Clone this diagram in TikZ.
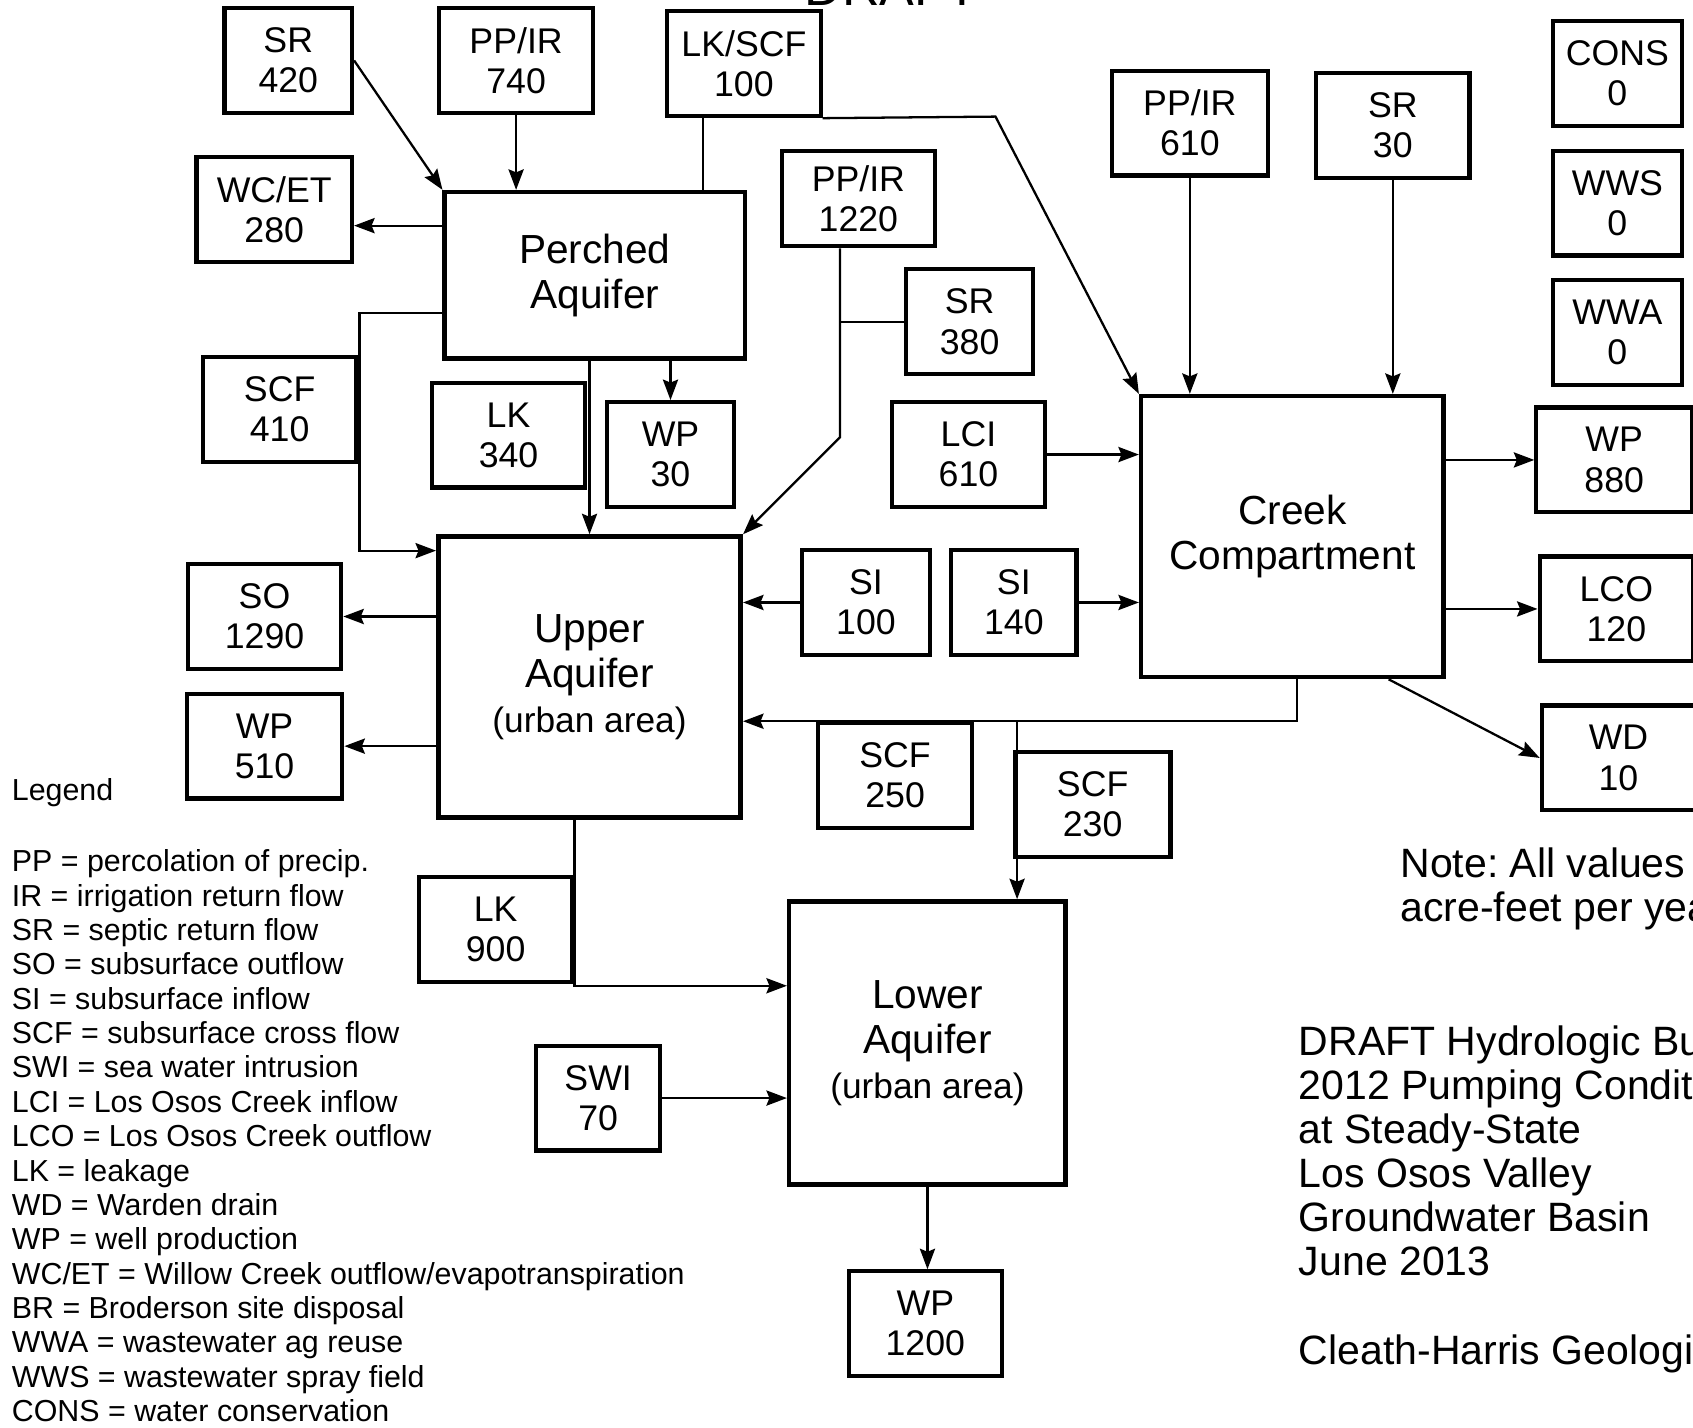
\documentclass[tikz,border=0pt]{standalone}
\usepackage{fontspec}
\setmainfont{Liberation Sans}
\usetikzlibrary{arrows.meta,calc}
\frenchspacing

\begin{document}
\begin{tikzpicture}[->, >={Stealth[length=5.4pt,width=4pt,inset=0.8pt]}, semithick,
    x=0.01cm, y=-0.01cm, node distance=1.2cm,
    flux/.style={draw, line width=1.1pt, align=center, inner sep=0pt,
      minimum width=1.42cm, minimum height=0.97cm,
      font=\fontsize{9.4}{10.6}\selectfont},
    aquifer/.style={draw, line width=1.2pt, align=center, inner sep=0pt,
      font=\fontsize{10.7}{11.8}\selectfont},
    note/.style={anchor=north west, align=left, inner sep=0pt,
      font=\fontsize{10.8}{11.6}\selectfont}]
            \useasboundingbox (0,0) rectangle (1568,1322);
            \clip (0,0) rectangle (1568,1322);
            \node (Draft) [anchor=base west, inner sep=0pt, font=\fontsize{13.7}{14}\selectfont] at (744,5) {DRAFT};
            \node (SRa)     [flux, minimum width=1.18cm] at (267,56)   {SR\\420};
            \node (PPIRa)   [flux]                       at (478,56)   {PP/IR\\740};
            \node (LKSCF)   [flux]                       at (689,59)   {LK/SCF\\100};
            \node (WCET)    [flux, minimum width=1.44cm] at (254,194)  {WC/ET\\280};
            \node (Perched) [aquifer, minimum width=2.78cm, minimum height=1.54cm] at (551,255) {Perched\\Aquifer};
            \node (PPIRb)   [flux, minimum height=0.88cm] at (795,184) {PP/IR\\1220};
            \node (SRb)     [flux, minimum width=1.17cm] at (898,298)  {SR\\380};
            \node (SCFa)    [flux]                       at (259,379)  {SCF\\410};
            \node (LKa)     [flux]                       at (471,403)  {LK\\340};
            \node (WPa)     [flux, minimum width=1.18cm] at (621,421)  {WP\\30};
            \node (LCI)     [flux]                       at (897,421)  {LCI\\610};
            \node (PPIRc)   [flux, minimum width=1.44cm] at (1102,114) {PP/IR\\610};
            \node (SRc)     [flux]                       at (1290,116) {SR\\30};
            \node (CONS)    [flux, minimum width=1.2cm]  at (1498,68)  {CONS\\0};
            \node (WWS)     [flux, minimum width=1.2cm, below of=CONS] {WWS\\0};
            \node (WWA)     [flux, minimum width=1.2cm, below of=WWS]  {WWA\\0};
            \node (Creek)   [aquifer, minimum width=2.8cm, minimum height=2.6cm] at (1197,497) {Creek\\Compartment};
            \node (WPe)     [flux, minimum width=1.44cm] at (1495,426) {WP\\880};
            \node (LCO)     [flux]                       at (1497,564) {LCO\\120};
            \node (WD)      [flux]                       at (1499,702) {WD\\10};
            \node (Upper)   [aquifer, minimum width=2.8cm, minimum height=2.6cm] at (546,627)
                            {Upper\\Aquifer\\{\fontsize{9.3}{10}\selectfont(urban area)}};
            \node (SIa)     [flux, minimum width=1.19cm] at (802,558)  {SI\\100};
            \node (SIb)     [flux, minimum width=1.16cm] at (939,558)  {SI\\140};
            \node (SO)      [flux]                       at (245,571)  {SO\\1290};
            \node (WPb)     [flux, minimum width=1.44cm, below of=SO]  {WP\\510};
            \node (SCFb)    [flux]                       at (829,718)  {SCF\\250};
            \node (SCFc)    [flux, minimum width=1.44cm] at (1012,745) {SCF\\230};
            \node (LKb)     [flux]                       at (459,861)  {LK\\900};
            \node (Lower)   [aquifer, minimum width=2.56cm, minimum height=2.62cm] at (859,966)
                            {Lower\\Aquifer\\{\fontsize{9.3}{10}\selectfont(urban area)}};
            \node (SWI)     [flux, minimum width=1.15cm] at (554,1017) {SWI\\70};
            \node (WPc)     [flux]                       at (857,1226) {WP\\1200};
            \node (LegendHead) [anchor=base west, inner sep=0pt, font=\fontsize{8}{9}\selectfont] at (10,741) {Legend};
            \node (Legend)  [anchor=north west, align=left, inner sep=0pt, font=\fontsize{8}{9.05}\selectfont] at (10,786)
                            {PP = percolation of precip.\\IR = irrigation return flow\\SR = septic return flow\\
                             SO = subsurface outflow\\SI = subsurface inflow\\SCF = subsurface cross flow\\
                             SWI = sea water intrusion\\LCI = Los Osos Creek inflow\\LCO = Los Osos Creek outflow\\
                             LK = leakage\\WD = Warden drain\\WP = well production\\
                             WC/ET = Willow Creek outflow/evapotranspiration\\BR = Broderson site disposal\\
                             WWA = wastewater ag reuse\\WWS = wastewater spray field\\CONS = water conservation};
            \node (Note)    [note] at (1296,784) {Note: All values in\\acre-feet per year};
            \node (Title)   [note] at (1202,949) {DRAFT Hydrologic Budget\\2012 Pumping Conditions\\at Steady-State\\
                             Los Osos Valley\\Groundwater Basin\\June 2013};
            \node (Firm)    [anchor=base west, inner sep=0pt, font=\fontsize{10.8}{11.6}\selectfont] at (1202,1264) {Cleath-Harris Geologists};
            \coordinate (WcIn)    at ($(WCET.east)+(0,15)$);
            \coordinate (LkDrop)  at (651,107);
            \coordinate (CkBend)  at (922,108);
            \coordinate (PcLk)    at (546,0);
            \coordinate (PpBend)  at (778,405);
            \coordinate (ScfTop)  at (333,290);
            \coordinate (ScfBot)  at (333,510);
            \coordinate (CfBend)  at (1201,668);
            \coordinate (CfSplit) at (942,668);
            \coordinate (LkBend)  at (532,913);
            \draw (SRa.east) -- (Perched.north west);
            \draw (PPIRa.south) -- (PPIRa.south |- Perched.north);
            \draw[-] (Perched.north -| LkDrop) -- (LkDrop);
            \draw (LKSCF.south east) -- (CkBend) -- (Creek.north west);
            \draw (Perched.west |- WcIn) -- (WcIn);
            \draw (Perched.west |- ScfTop) -- (ScfTop) -- (ScfBot) -- (Upper.west |- ScfBot);
            \draw (Perched.south -| PcLk) -- (Upper.north -| PcLk);
            \draw (Perched.south -| WPa.north) -- (WPa.north);
            \draw (PPIRb.south -| PpBend) -- (PpBend) -- (Upper.north east);
            \draw[-] (SRb.west) -- (SRb.west -| PpBend);
            \draw (PPIRc.south) -- (PPIRc.south |- Creek.north);
            \draw (SRc.south) -- (SRc.south |- Creek.north);
            \draw (LCI.east) -- (LCI.east -| Creek.west);
            \draw (SIa.west) -- (SIa.west -| Upper.east);
            \draw (SIb.east) -- (SIb.east -| Creek.west);
            \draw (Creek.east |- WPe.west) -- (WPe.west);
            \draw (Creek.east |- LCO.west) -- (LCO.west);
            \draw (Creek.-56) -- (WD.west);
            \draw (Creek.south -| CfBend) -- (CfBend) -- (Upper.east |- CfBend);
            \draw (CfSplit) -- (CfSplit |- Lower.north);
            \draw (Upper.south -| LkBend) -- (LkBend) -- (Lower.west |- LkBend);
            \draw (SWI.east) -- (SWI.east -| Lower.west);
            \draw (Lower.south) -- (Lower.south |- WPc.north);
            \draw (Upper.west |- SO.east) -- (SO.east);
            \draw (Upper.west |- WPb.east) -- (WPb.east);
        \end{tikzpicture}
\end{document}
